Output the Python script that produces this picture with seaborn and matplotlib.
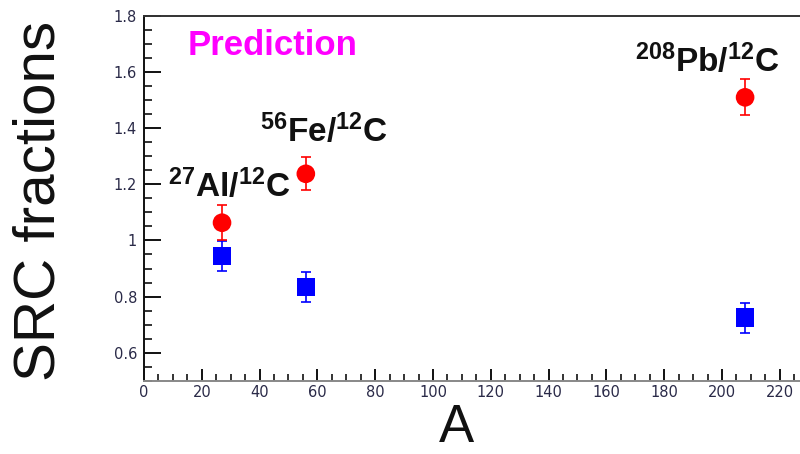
import matplotlib
matplotlib.use("Agg")
import matplotlib.pyplot as plt
import seaborn as sns
import pandas as pd
from matplotlib.ticker import MultipleLocator

# Mass numbers of the nuclei
mass_number = [27, 56, 208]
nucleus_labels = [r"$\mathbf{^{27}Al/^{12}C}$",
                  r"$\mathbf{^{56}Fe/^{12}C}$",
                  r"$\mathbf{^{208}Pb/^{12}C}$"]

# Ratio series (red circles) and its uncertainties
ratio_values = [1.063, 1.237, 1.509]
ratio_errors = [0.062, 0.058, 0.064]

# Fraction series (blue squares) and its uncertainties
fraction_values = [0.944, 0.835, 0.725]
fraction_errors = [0.053, 0.053, 0.053]

x_ticks = [0, 20, 40, 60, 80, 100, 120, 140, 160, 180, 200, 220]
y_ticks = [0.6, 0.8, 1.0, 1.2, 1.4, 1.6, 1.8]
y_tick_labels = ["0.6", "0.8", "1", "1.2", "1.4", "1.6", "1.8"]

sns.set_theme(style="white")
plt.rcParams["font.family"] = ["Liberation Sans", "DejaVu Sans"]
plt.rcParams["mathtext.fontset"] = "custom"
plt.rcParams["mathtext.rm"] = "Liberation Sans"
plt.rcParams["mathtext.bf"] = "Liberation Sans:bold"

df = pd.DataFrame({
    "A": mass_number * 2,
    "value": ratio_values + fraction_values,
    "err": ratio_errors + fraction_errors,
    "series": ["ratio"] * 3 + ["fraction"] * 3,
})

fig = plt.figure(figsize=(8.0, 4.54), dpi=100)
ax = fig.add_axes([0.18, 0.1608, 0.82, 0.805])

palette = {"ratio": "#ff0000", "fraction": "#0000ff"}
markers = {"ratio": "o", "fraction": "s"}

for name, sub in df.groupby("series"):
    ax.errorbar(sub["A"], sub["value"], yerr=sub["err"], fmt="none",
                ecolor=palette[name], elinewidth=1.2, capsize=3.5,
                capthick=1.2, zorder=2)

sns.scatterplot(data=df, x="A", y="value", hue="series", style="series",
                palette=palette, markers=markers, s=180, edgecolor="none",
                legend=False, ax=ax, zorder=3)

ax.set_xlim(0, 227)
ax.set_ylim(0.5, 1.8)
ax.set_xticks(x_ticks)
ax.set_yticks(y_ticks)
ax.set_yticklabels(y_tick_labels)
ax.xaxis.set_minor_locator(MultipleLocator(5))
ax.yaxis.set_minor_locator(MultipleLocator(0.05))
ax.set_xlabel("")
ax.set_ylabel("")

tick_color = "#2a2a48"
ax.tick_params(axis="y", which="major", direction="in", length=12, width=1.4,
               color="#111111", labelsize=10.5, labelcolor=tick_color, pad=5,
               left=True, right=False)
ax.tick_params(axis="y", which="minor", direction="in", length=6, width=1.2,
               color="#111111", left=True, right=False)
ax.tick_params(axis="x", which="major", direction="in", length=9, width=1.4,
               color="#111111", labelsize=10.5, labelcolor=tick_color, pad=3,
               bottom=True, top=False)
ax.tick_params(axis="x", which="minor", direction="in", length=5, width=1.2,
               color="#111111", bottom=True, top=False)
for lab in ax.get_xticklabels() + ax.get_yticklabels():
    lab.set_fontfamily("DejaVu Sans")

ax.spines["right"].set_visible(False)
ax.spines["left"].set_color("#111111")
ax.spines["left"].set_linewidth(1.4)
ax.spines["top"].set_color("#333333")
ax.spines["top"].set_linewidth(1.4)
ax.spines["bottom"].set_color("#888888")
ax.spines["bottom"].set_linewidth(1.4)

ax.text(15.2, 1.66, "Prediction", color="#ff00ff", fontsize=25,
        fontweight="bold", ha="left", va="baseline")

label_pos = [(8.3, 1.155), (40.1, 1.351), (170.0, 1.600)]
for text, (lx, ly) in zip(nucleus_labels, label_pos):
    ax.text(lx, ly, text, fontsize=24, color="#111111", ha="left",
            va="baseline")

fig.text(0.05, 0.557, "SRC fractions", rotation=90, fontsize=42,
         ha="center", va="center", color="#111111")
fig.text(0.571, 0.003, "A", fontsize=38, ha="center", va="bottom",
         color="#111111")

fig.savefig("out.png", dpi=100)
